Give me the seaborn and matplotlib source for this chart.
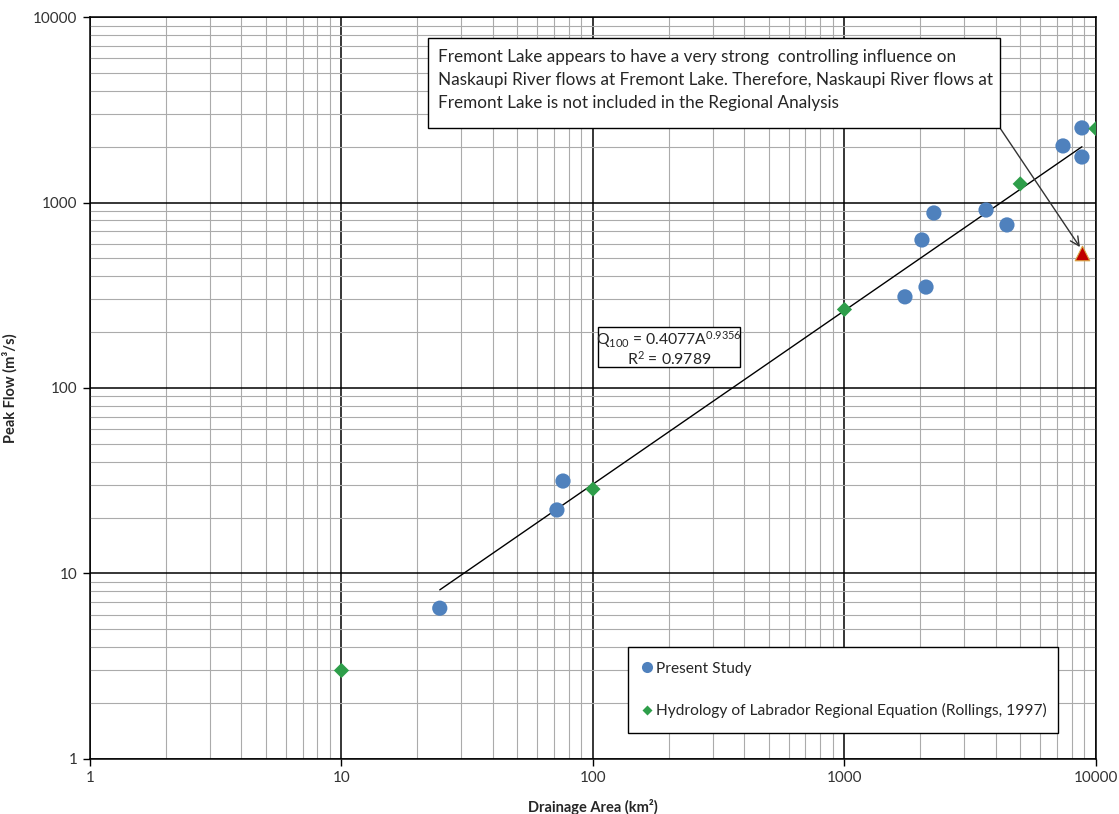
import numpy as np
import pandas as pd
import matplotlib
matplotlib.use("Agg")
import matplotlib.pyplot as plt
from matplotlib.patches import Rectangle
from matplotlib.lines import Line2D
from matplotlib.ticker import LogLocator, FixedLocator, NullFormatter
import seaborn as sns

# ---- data -------------------------------------------------------------
present_area = [24.6, 71.9, 76.0, 1740, 2033, 2110, 2268, 3656, 4427, 7396, 8795, 8795]
present_flow = [6.5, 22.0, 31.5, 310, 628, 350, 878, 911, 757, 2018, 2524, 1759]

regional_area = [10, 100, 1000, 5000, 10000]
regional_flow = [3.0, 28.5, 265, 1260, 2500]

excluded_area = [8795]
excluded_flow = [534]

trend_coef = 0.4077
trend_exp = 0.9356
trend_r2 = 0.9789
trend_span = [24.6, 8795]

x_ticks = [1, 10, 100, 1000, 10000]
y_ticks = [1, 10, 100, 1000, 10000]

note_lines = [
    "Fremont Lake appears to have a very strong  controlling influence on",
    "Naskaupi River flows at Fremont Lake. Therefore, Naskaupi River flows at",
    "Fremont Lake is not included in the Regional Analysis",
]

# ---- style ------------------------------------------------------------
sns.set_style("white")
plt.rcParams["font.family"] = ["Lato", "DejaVu Sans"]
plt.rcParams["mathtext.default"] = "regular"

BLUE = "#4F81BD"
GREEN = "#2E9E4A"
RED = "#C00000"

fig = plt.figure(figsize=(11.19, 8.14), dpi=100)
ax = fig.add_axes([0.0804, 0.0676, 0.8990, 0.9115])

present = pd.DataFrame({"area": present_area, "flow": present_flow})
regional = pd.DataFrame({"area": regional_area, "flow": regional_flow})
excluded = pd.DataFrame({"area": excluded_area, "flow": excluded_flow})

# power-law trendline from the fitted coefficients
span = np.geomspace(trend_span[0], trend_span[1], 50)
trend = pd.DataFrame({"area": span, "flow": trend_coef * span ** trend_exp})
sns.lineplot(data=trend, x="area", y="flow", ax=ax, color="black", lw=1.0, zorder=3)

sns.scatterplot(data=present, x="area", y="flow", ax=ax, color=BLUE, s=120,
                marker="o", edgecolor="none", zorder=4)
sns.scatterplot(data=regional, x="area", y="flow", ax=ax, color=GREEN, s=60,
                marker="D", edgecolor="none", zorder=5)
sns.scatterplot(data=excluded, x="area", y="flow", ax=ax, color=RED, s=110,
                marker="^", edgecolor="#D9A441", linewidth=0.8, zorder=5)

ax.set_xscale("log")
ax.set_yscale("log")
ax.set_xlim(x_ticks[0], x_ticks[-1])
ax.set_ylim(y_ticks[0], y_ticks[-1])

ax.xaxis.set_major_locator(FixedLocator(x_ticks))
ax.yaxis.set_major_locator(FixedLocator(y_ticks))
ax.set_xticklabels([str(v) for v in x_ticks])
ax.set_yticklabels([str(v) for v in y_ticks])
ax.xaxis.set_minor_locator(LogLocator(base=10, subs=np.arange(2, 10)))
ax.yaxis.set_minor_locator(LogLocator(base=10, subs=np.arange(2, 10)))
ax.xaxis.set_minor_formatter(NullFormatter())
ax.yaxis.set_minor_formatter(NullFormatter())

ax.grid(which="minor", color="#ABABAB", lw=0.8)
ax.grid(which="major", color="black", lw=1.1)
ax.set_axisbelow(True)
for sp in ax.spines.values():
    sp.set_color("black")
    sp.set_linewidth(1.1)

ax.tick_params(which="major", direction="out", length=5, width=1, color="black",
               labelsize=11, labelcolor="#333333", pad=4,
               left=True, bottom=True)
ax.tick_params(which="minor", length=0)

ax.set_xlabel("Drainage Area (km²)", fontsize=10.5, fontweight="bold", labelpad=10)
ax.set_ylabel("Peak Flow (m³/s)", fontsize=10.5, fontweight="bold")
ax.yaxis.set_label_coords(-0.0716, 0.5)

# ---- legend -----------------------------------------------------------
handles = [
    Line2D([], [], ls="none", marker="o", ms=8, mfc=BLUE, mec="none"),
    Line2D([], [], ls="none", marker="D", ms=5, mfc=GREEN, mec="none"),
]
leg = ax.legend(handles, ["Present Study",
                          "Hydrology of Labrador Regional Equation (Rollings, 1997)"],
                loc="lower left", bbox_to_anchor=(0.535, 0.035, 0.427, 0.116),
                mode="expand", borderaxespad=0, fontsize=11.2, frameon=True,
                fancybox=False, edgecolor="black", framealpha=1,
                handlelength=0.5, handletextpad=0.35, labelspacing=1.75,
                borderpad=0.95)
leg.get_frame().set_linewidth(1.0)

# ---- equation box ------------------------------------------------------
W, H = 1119, 814


def fx(px):
    return px / W


def fy(py):
    return 1 - py / H


fig.patches.append(Rectangle((fx(598), fy(367)), fx(740) - fx(598), fy(327) - fy(367),
                             transform=fig.transFigure, facecolor="white",
                             edgecolor="black", lw=1.0, zorder=6))
fig.text(fx(669), fy(340), "Q$_{100}$ = %.4fA$^{%.4f}$" % (trend_coef, trend_exp),
         ha="center", va="center", fontsize=11.3, zorder=7)
fig.text(fx(669), fy(359), "R$^{2}$ = %.4f" % trend_r2,
         ha="center", va="center", fontsize=11.3, zorder=7)

# ---- note box with arrow ---------------------------------------------
fig.patches.append(Rectangle((fx(428), fy(128)), fx(1000) - fx(428), fy(38) - fy(128),
                             transform=fig.transFigure, facecolor="white",
                             edgecolor="black", lw=1.0, zorder=6))
for i, line in enumerate(note_lines):
    fig.text(fx(438), fy(57 + 23 * i), line, ha="left", va="center",
             fontsize=12.3, zorder=7)

ax.annotate("", xy=(8635, 575), xycoords="data",
            xytext=(fx(1000), fy(128)), textcoords="figure fraction",
            arrowprops=dict(arrowstyle="->", color="#333333", lw=1.0,
                            mutation_scale=16, shrinkA=0, shrinkB=0),
            zorder=6)

fig.savefig("out.png", dpi=100)
